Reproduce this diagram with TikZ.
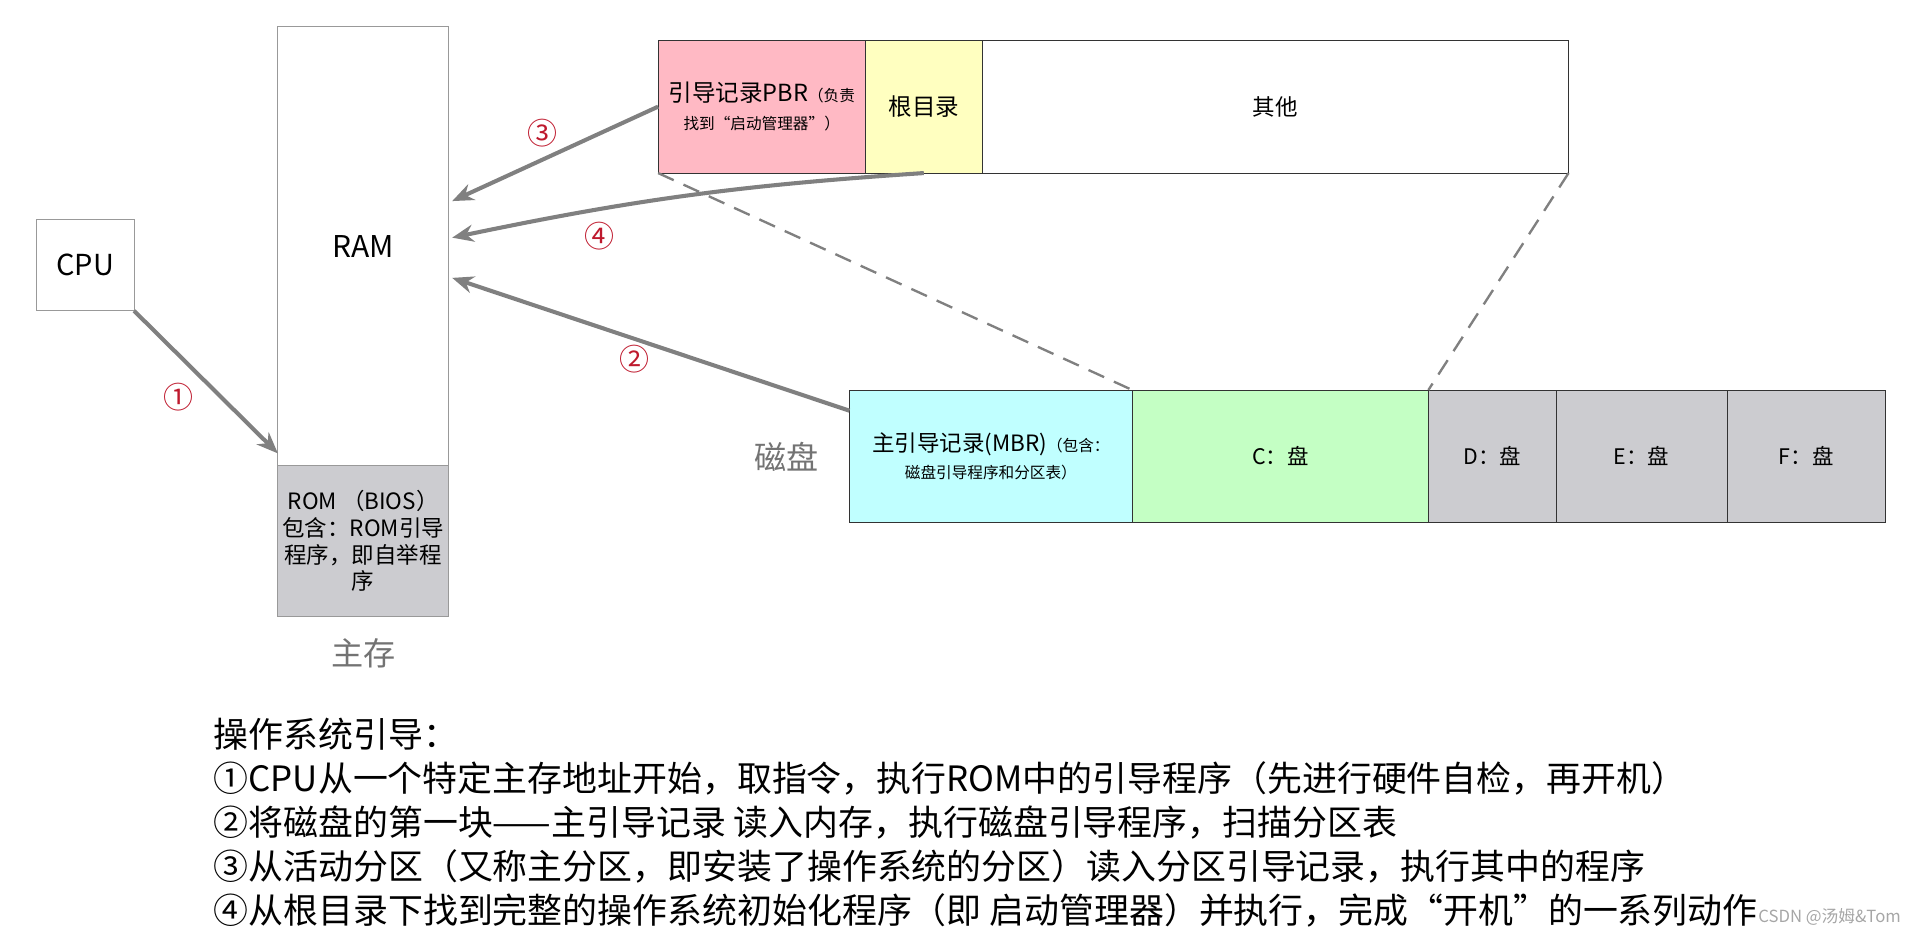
\documentclass[tikz,border=0pt]{standalone}
\usepackage{fontspec}
\usepackage{xcolor}
\setmainfont{Noto Sans CJK SC}
\usetikzlibrary{positioning,arrows.meta}

\definecolor{pbrpink}{RGB}{255,185,196}
\definecolor{rootyellow}{RGB}{255,255,192}
\definecolor{mbrcyan}{RGB}{192,255,255}
\definecolor{cgreen}{RGB}{196,255,196}
\definecolor{diskgray}{RGB}{204,204,208}
\definecolor{labgray}{RGB}{115,115,115}
\definecolor{numred}{RGB}{190,25,45}

\newcommand{\tinynote}{\fontsize{7.3}{9.5}\selectfont}

\begin{document}
\begin{tikzpicture}[x=0.2mm, y=-0.2mm,
    box/.style = {draw=gray!80, inner sep=0pt, outer sep=0pt},
    cell/.style = {draw=black!80, inner sep=0pt, outer sep=0pt, minimum height=21.8mm, align=center},
    flow/.style = {draw=gray, line width=1.9pt, -{Stealth[length=10pt,width=8pt]}},
    num/.style = {text=numred, inner sep=2pt, font=\fontsize{14}{14}\selectfont},
    side/.style = {text=labgray, inner sep=0pt, font=\fontsize{15}{15}\selectfont},
    zoomline/.style = {draw=gray, line width=1.1pt, dash pattern=on 8pt off 5pt}]
  \useasboundingbox (0,0) rectangle (1568,769);

  % memory side
  \node[box, anchor=north west, minimum width=16mm, minimum height=15mm, font=\fontsize{13.5}{13.5}\selectfont] (cpu) at (30,180) {CPU};
  \node[box, anchor=north west, minimum width=28mm, minimum height=72mm, font=\fontsize{14}{14}\selectfont] (ram) at (228,22) {RAM};
  \node[box, fill=diskgray, anchor=north, minimum width=28mm, minimum height=24.8mm, align=center, font=\fontsize{10.5}{12.5}\selectfont] (rom) at (ram.south) {ROM （BIOS）\\包含：ROM引导\\程序，即自举程\\序};
  \node[side, below=3.5mm of rom] (mem) {主存};

  % partition
  \node[cell, fill=pbrpink, anchor=north west, minimum width=34mm] (pbr) at (540,33) {\fontsize{11}{13}\selectfont 引导记录PBR{\tinynote（负责}\\[1pt]{\tinynote 找到“启动管理器”）}};
  \node[cell, fill=rootyellow, minimum width=19.2mm, right=0pt of pbr, font=\fontsize{11}{11}\selectfont] (root) {根目录};
  \node[cell, minimum width=96.2mm, right=0pt of root, font=\fontsize{10.5}{10.5}\selectfont] (other) {其他};

  % disk
  \node[cell, fill=mbrcyan, anchor=north west, minimum width=46.4mm] (mbr) at (697,320) {\fontsize{10.5}{13}\selectfont 主引导记录(MBR){\tinynote（包含：}\\[1pt]{\tinynote 磁盘引导程序和分区表）}};
  \node[cell, fill=cgreen, minimum width=48.6mm, right=0pt of mbr, font=\fontsize{10}{10}\selectfont] (c) {C：盘};
  \node[cell, fill=diskgray, minimum width=21mm, right=0pt of c, font=\fontsize{10}{10}\selectfont] (d) {D：盘};
  \node[cell, fill=diskgray, minimum width=28mm, right=0pt of d, font=\fontsize{10}{10}\selectfont] (e) {E：盘};
  \node[cell, fill=diskgray, minimum width=26mm, right=0pt of e, font=\fontsize{10}{10}\selectfont] (f) {F：盘};
  \node[side, left=5mm of mbr] (disk) {磁盘};

  \draw[zoomline] (pbr.south west) -- (mbr.north east);
  \draw[zoomline] (other.south east) -- (c.north east);

  \draw[flow] (cpu.south east) -- node[num, pos=.46, below left] {①} ([yshift=2mm]ram.south west);
  \draw[flow] ([yshift=-3.4mm]mbr.north west) -- node[num, pos=.54, below] {②} ([xshift=0.6mm, yshift=-5.2mm]ram.east);
  \draw[flow] (pbr.west) -- node[num, pos=.56, above=1mm] {③} ([xshift=0.6mm, yshift=7.4mm]ram.east);
  \draw[flow] (root.south) to[bend right=4] node[num, pos=.7, below=1mm] {④} ([xshift=0.6mm, yshift=1.4mm]ram.east);

  % steps
  \node[anchor=north west, inner sep=0pt, align=left, font=\fontsize{16.3}{20.5}\selectfont] (steps) at (175,589) {操作系统引导：\\
①CPU从一个特定主存地址开始，取指令，执行ROM中的引导程序（先进行硬件自检，再开机）\\
②将磁盘的第一块——主引导记录 读入内存，执行磁盘引导程序，扫描分区表\\
③从活动分区（又称主分区，即安装了操作系统的分区）读入分区引导记录，执行其中的程序\\
④从根目录下找到完整的操作系统初始化程序（即 启动管理器）并执行，完成“开机”的一系列动作};
  \node[anchor=east, inner sep=0pt, text=gray!70, font=\fontsize{7.8}{7.8}\selectfont] (mark) at (1560,752) {CSDN @汤姆\&Tom};
\end{tikzpicture}
\end{document}
